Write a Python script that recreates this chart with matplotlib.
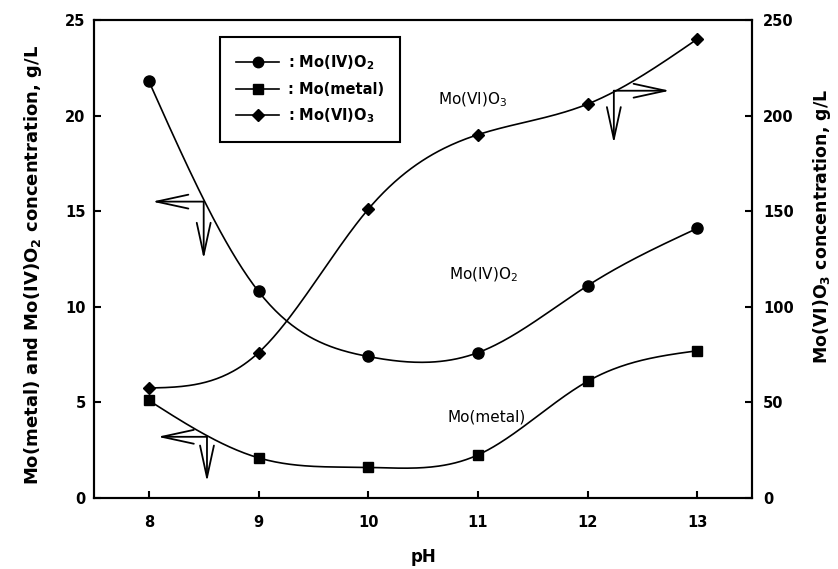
import numpy as np
import matplotlib
matplotlib.use('Agg')
import matplotlib.pyplot as plt
from matplotlib.lines import Line2D

plt.rcParams['font.family'] = ['DejaVu Sans']
plt.rcParams['mathtext.fontset'] = 'dejavusans'

# ---- data ----
ph = [8, 9, 10, 11, 12, 13]
mo_iv_o2 = [21.8, 10.8, 7.4, 7.6, 11.1, 14.1]
mo_metal = [5.1, 2.1, 1.6, 2.25, 6.1, 7.7]
mo_vi_o3 = [57.5, 76, 151, 190, 206, 240]
left_ticks = [0, 5, 10, 15, 20, 25]
right_ticks = [0, 50, 100, 150, 200, 250]
x_ticks = [8, 9, 10, 11, 12, 13]


def natural_spline(x, y, n=300):
    x = np.asarray(x, float)
    y = np.asarray(y, float)
    m = len(x)
    h = np.diff(x)
    A = np.zeros((m, m))
    b = np.zeros(m)
    A[0, 0] = 1
    A[-1, -1] = 1
    for i in range(1, m - 1):
        A[i, i - 1] = h[i - 1]
        A[i, i] = 2 * (h[i - 1] + h[i])
        A[i, i + 1] = h[i]
        b[i] = 3 * ((y[i + 1] - y[i]) / h[i] - (y[i] - y[i - 1]) / h[i - 1])
    c = np.linalg.solve(A, b)
    xs = np.linspace(x[0], x[-1], n)
    idx = np.clip(np.searchsorted(x, xs) - 1, 0, m - 2)
    dx = xs - x[idx]
    bb = (y[1:] - y[:-1]) / h - h * (2 * c[:-1] + c[1:]) / 3
    d = (c[1:] - c[:-1]) / (3 * h)
    ys = y[idx] + bb[idx] * dx + c[idx] * dx ** 2 + d[idx] * dx ** 3
    return xs, ys


fig = plt.figure(figsize=(8.38, 5.69), dpi=100)
ax = fig.add_axes([0.1122, 0.1248, 0.7852, 0.8401])
ax2 = ax.twinx()

lw = 1.2
for vals, mk, ms in [(mo_iv_o2, 'o', 8), (mo_metal, 's', 7.5)]:
    xs, ys = natural_spline(ph, vals)
    ax.plot(xs, ys, color='black', lw=lw)
    ax.plot(ph, vals, linestyle='none', marker=mk, ms=ms, color='black')

xs, ys = natural_spline(ph, mo_vi_o3)
ax2.plot(xs, ys, color='black', lw=lw)
ax2.plot(ph, mo_vi_o3, linestyle='none', marker='D', ms=6.5, color='black')

ax.set_xlim(7.5, 13.5)
ax.set_ylim(0, 25)
ax2.set_ylim(0, 250)
ax.set_xticks(x_ticks)
ax.set_yticks(left_ticks)
ax2.set_yticks(right_ticks)

for a in (ax, ax2):
    for s in a.spines.values():
        s.set_linewidth(1.5)
ax.tick_params(axis='y', direction='in', length=5, width=1.5, labelsize=10.5, pad=6)
ax.tick_params(axis='x', direction='in', length=5, width=1.5, labelsize=10.5, pad=12)
ax2.tick_params(axis='y', direction='in', length=5, width=1.5, labelsize=10.5, pad=8)
for lab in ax.get_xticklabels() + ax.get_yticklabels() + ax2.get_yticklabels():
    lab.set_fontweight('bold')

ax.set_xlabel('pH', fontsize=12, fontweight='bold')
ax.xaxis.set_label_coords(0.5, -0.105)
ax.set_ylabel(r'Mo(metal) and Mo(IV)O$_\mathbf{2}$ concentration, g/L', fontsize=13, fontweight='bold')
ax.yaxis.set_label_coords(-0.076, 0.487)
ax2.set_ylabel(r'Mo(VI)O$_\mathbf{3}$ concentration, g/L', fontsize=12.5, fontweight='bold')
ax2.yaxis.set_label_coords(1.089, 0.569)

# curve labels
ax.text(11.05, 11.66, r'Mo(IV)O$_2$', fontsize=11, ha='center', va='center')
ax.text(11.08, 4.24, 'Mo(metal)', fontsize=11, ha='center', va='center')
ax.text(10.95, 20.8, r'Mo(VI)O$_3$', fontsize=11, ha='center', va='center')

# arrows
aprops = dict(arrowstyle='->,head_length=2.3,head_width=0.5', lw=1.3, color='black',
              shrinkA=0, shrinkB=0)
arrows = [((8.5, 15.5), (8.03, 15.5)), ((8.5, 15.5), (8.5, 12.5)),
          ((8.53, 3.2), (8.08, 3.2)), ((8.53, 3.2), (8.53, 0.85)),
          ((12.24, 21.3), (12.75, 21.3)), ((12.24, 21.3), (12.24, 18.55))]
for start, tip in arrows:
    ax.annotate('', xy=tip, xytext=start, arrowprops=aprops)

handles = [Line2D([], [], color='black', lw=lw, marker='o', ms=7.5),
           Line2D([], [], color='black', lw=lw, marker='s', ms=7),
           Line2D([], [], color='black', lw=lw, marker='D', ms=6)]
labels = [r': Mo(IV)O$_\mathbf{2}$', ': Mo(metal)', r': Mo(VI)O$_\mathbf{3}$']
leg = ax2.legend(handles, labels, loc='upper left', bbox_to_anchor=(0.191, 0.965),
                 borderaxespad=0, frameon=True, fancybox=False, edgecolor='black',
                 framealpha=1, prop={'weight': 'bold', 'size': 10.5}, handlelength=2.9,
                 borderpad=1.15, labelspacing=0.66, handletextpad=0.6)
leg.get_frame().set_linewidth(1.5)

fig.savefig('out.png', dpi=100)
